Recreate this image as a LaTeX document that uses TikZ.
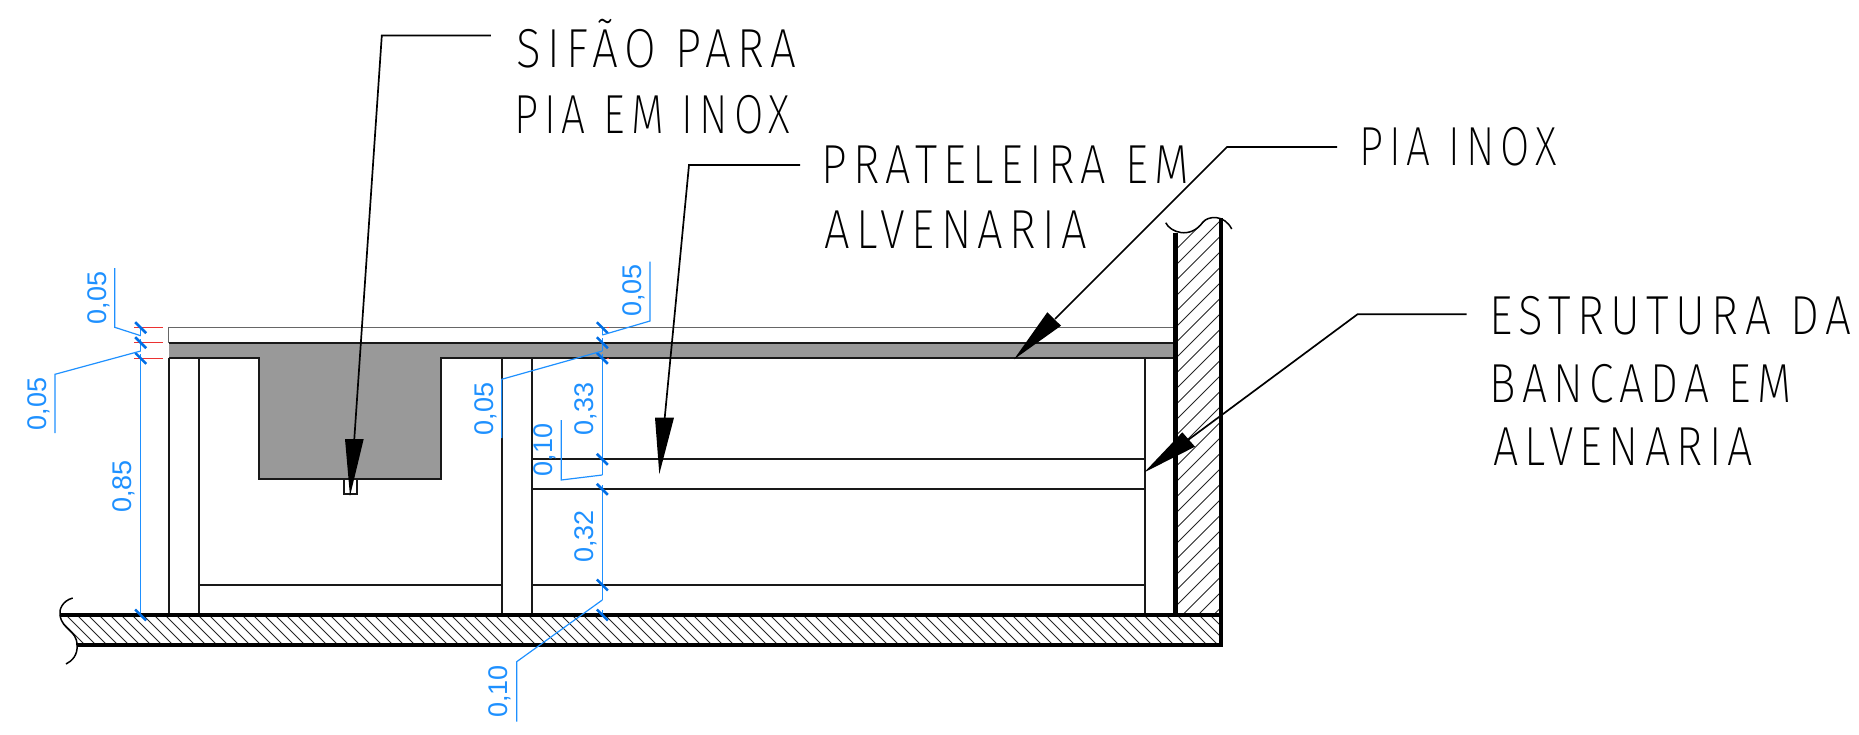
\documentclass[tikz,border=0pt]{standalone}
\usepackage{fontspec}
\setmainfont{Liberation Sans}
\newfontfamily\din[LetterSpace=14]{Fira Sans ExtraLight}
\definecolor{dimblue}{RGB}{30,144,255}
\definecolor{tickblue}{RGB}{0,110,230}
\definecolor{redline}{RGB}{235,50,50}
\definecolor{fillgray}{RGB}{153,153,153}
\newcommand{\notetext}[2]{\scalebox{#1}[1]{#2}}
\tikzset{
  x=1pt,y=-1pt,
  wallline/.style={line width=4.5pt,black},
  thinline/.style={line width=1.7pt,black!90},
  paleline/.style={line width=1.5pt,black!60},
  hatchline/.style={line width=1pt,black!85},
  dimline/.style={line width=1.2pt,dimblue},
  tick/.style={line width=2.5pt,tickblue},
  leader/.style={line width=1.7pt,black},
  head/.style={fill=black,draw=none},
  dimtext/.style={rotate=90,text=dimblue,font=\fontsize{27}{27}\selectfont,inner sep=0pt,anchor=center},
  note/.style={anchor=base west,inner sep=0pt,font=\din\fontsize{55}{55}\selectfont},
}
\begin{document}
\begin{tikzpicture}
\useasboundingbox (0,0) rectangle (1859,735);
% hatching
\begin{scope}
  \clip (66,615) -- (1221,615) -- (1221,645) -- (77,645) .. controls (77,633) and (62,628) .. (60,615) -- cycle;
  \foreach \i in {0,...,110} \draw[hatchline] ({50+\i*11},610) -- ({90+\i*11},650);
\end{scope}
\begin{scope}
  \clip (1175,233) .. controls (1190,238) and (1198,228) .. (1203,222) .. controls (1208,217) and (1215,217) .. (1221,218) -- (1221,615) -- (1175,615) -- cycle;
  \foreach \i in {-2,...,40} \draw[hatchline] (1170,{240+\i*15.5}) -- (1230,{180+\i*15.5});
\end{scope}
% grey parts
\fill[fillgray] (168.7,342.7) rectangle (1175,358.3);
\fill[fillgray] (259.3,358) rectangle (441,479.3);
\draw[thinline] (168.7,358.3) -- (259.3,358.3) -- (259.3,479.3) -- (441,479.3) -- (441,358.3) -- (1175,358.3);
\draw[thinline] (168.7,342.7) -- (1175,342.7);
\draw[paleline] (168.7,342.7) -- (168.7,327.7) -- (1175,327.7);
% red references
\foreach \y in {327.7,342.7,358.3} \draw[line width=1.3pt,redline] (134,\y) -- (163,\y);
\draw[line width=1.3pt,redline!70!black] (134,615) -- (163,615);
\foreach \x/\y in {608/327.7,608/358.3,608/459.3,596.7/489.3,596.7/585,596.7/615}
  \draw[line width=1.2pt,redline] (\x-1,\y) -- (\x+1,\y);
% structure
\foreach \x in {168.7,199.3,501.7,532,1145.3} \draw[thinline] (\x,358.3) -- (\x,615);
\draw[thinline] (199.3,585) -- (501.7,585);
\foreach \y in {459.3,489.3,585} \draw[thinline] (532,\y) -- (1145.3,\y);
\draw[thinline] (344,479.3) -- (344,494) -- (356.7,494) -- (356.7,479.3);
% walls
\draw[wallline] (60,615) -- (1221,615);
\draw[wallline] (77,645) -- (1223.2,645);
\draw[wallline] (1175.3,233) -- (1175.3,615);
\draw[wallline] (1221,218) -- (1221,645);
% break lines
\draw[line width=1.5pt] (72.7,598) .. controls (62,601) and (59,610) .. (60,615) .. controls (62,630) and (77,630) .. (77,645) .. controls (78,655) and (72,661) .. (66,664);
\draw[line width=1.5pt] (1165.7,222.7) .. controls (1170,232) and (1190,240) .. (1203,222) .. controls (1208,216) and (1224,214) .. (1231.7,229);
% dimension lines
\draw[dimline] (140.7,327.7) -- (140.7,335.7) (140.7,339) -- (140.7,351) (140.7,354) -- (140.7,615);
\draw[dimline] (602.3,327.7) -- (602.3,335) (602.3,338) -- (602.3,351) (602.3,354) -- (602.3,475) (602.3,485) -- (602.3,600) (602.3,610) -- (602.3,615);
\foreach \x/\y in {140.7/327.7,140.7/342.7,140.7/358.3,140.7/615,602.3/327.7,602.3/342.7,602.3/358.3,602.3/459.3,602.3/489.3,602.3/585,602.3/615}
  \draw[tick] (\x-5.5,\y-5.5) -- (\x+5.5,\y+5.5);
% leaders of dimensions
\coordinate (a1) at (140.7,335.7);
\coordinate (a2) at (140.7,351);
\coordinate (b1) at (602.3,335);
\coordinate (b2) at (602.3,351);
\coordinate (b3) at (602.3,475);
\coordinate (b4) at (602.3,600);
\draw[dimline] (a1) -- (114.7,327.3) -- (114.7,268);
\draw[dimline] (a2) -- (55,374.3) -- (55,433);
\draw[dimline] (b1) -- (650,321) -- (650,261.7);
\draw[dimline] (b2) -- (501.7,379.3) -- (501.7,438);
\draw[dimline] (b3) -- (561.3,480) -- (561.3,420);
\draw[dimline] (b4) -- (516.7,661.7) -- (516.7,721.7);
\node[dimtext] (d1) at (98.5,298) {0,05};
\node[dimtext] (d2) at (38.5,404) {0,05};
\node[dimtext] (d3) at (124,486.7) {0,85};
\node[dimtext] (d4) at (634,290.7) {0,05};
\node[dimtext] (d5) at (485.5,409) {0,05};
\node[dimtext] (d6) at (585.5,409) {0,33};
\node[dimtext] (d7) at (545,450) {0,10};
\node[dimtext] (d8) at (585.5,536.7) {0,32};
\node[dimtext] (d9) at (500,691.7) {0,10};
% notes
\node[note] (n1) at (516,67.3) {\notetext{0.835}{SIFÃO PARA}};
\node[note] (n2) at (514,133.3) {\notetext{0.773}{PIA EM INOX}};
\node[note] (n3) at (821,183.8) {\notetext{0.821}{PRATELEIRA EM}};
\node[note] (n4) at (824,249) {\notetext{0.826}{ALVENARIA}};
\node[note] (n5) at (1359,166) {\notetext{0.771}{PIA INOX}};
\node[note] (n6) at (1489,334) {\notetext{0.837}{ESTRUTURA DA}};
\node[note] (n7) at (1489.5,402) {\notetext{0.808}{BANCADA EM}};
\node[note] (n8) at (1493,465) {\notetext{0.816}{ALVENARIA}};
% arrows
\coordinate (e1) at (490.8,35.6);
\coordinate (t1) at (350,496);
\draw[leader] (e1) -- (381.8,35.6) -- (354.3,439);
\fill[head] (t1) -- (345,439) -- (363.7,439) -- cycle;
\coordinate (e2) at (800,165);
\coordinate (t2) at (659.3,474);
\draw[leader] (e2) -- (689,165) -- (664.7,418);
\fill[head] (t2) -- (655,417.7) -- (674,417.7) -- cycle;
\coordinate (e3) at (1337,147);
\coordinate (t3) at (1014,359.3);
\draw[leader] (e3) -- (1227,147) -- (1055,319);
\fill[head] (t3) -- (1047.3,312.3) -- (1061,325.7) -- cycle;
\coordinate (e4) at (1466.6,314.2);
\coordinate (t4) at (1144.3,472.3);
\draw[leader] (e4) -- (1357.6,314.2) -- (1188,440);
\fill[head] (t4) -- (1182.3,432.3) -- (1195,446.7) -- cycle;
\end{tikzpicture}
\end{document}
